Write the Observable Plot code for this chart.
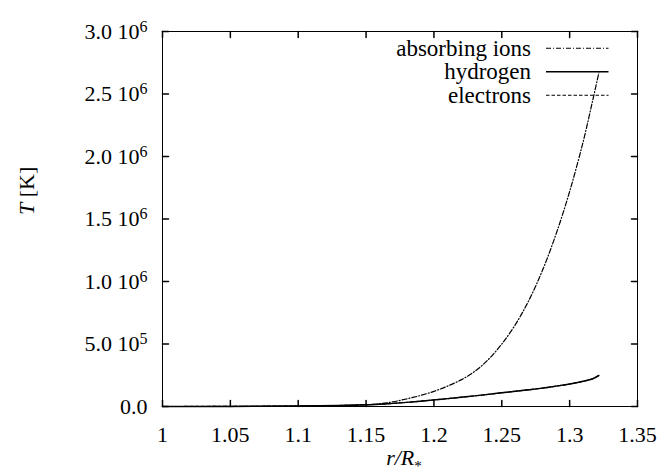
<!DOCTYPE html>
<html><head><meta charset="utf-8">
<script src="https://cdn.jsdelivr.net/npm/d3@7"></script>
<script src="https://cdn.jsdelivr.net/npm/@observablehq/plot@0.6"></script>
<style>
body{margin:0;background:#fff;}
#wrap{position:relative;width:672px;height:474px;}
</style></head><body><div id="wrap"></div>
<script>
// radius r/R*
const radius = [1.00, 1.05, 1.10, 1.13, 1.15, 1.16, 1.17, 1.18, 1.19, 1.20, 1.21, 1.22, 1.23, 1.24, 1.25, 1.26, 1.27, 1.28, 1.29, 1.30, 1.31, 1.3166, 1.3215];
// temperatures [K]
const tIons      = [0, 500, 3000, 7000, 14000, 22000, 38000, 61000, 88000, 121000, 163000, 213000, 280000, 375000, 500000, 655000, 850000, 1090000, 1380000, 1720000, 2120000, 2430000, 2668000];
const tHydrogen  = [0, 1000, 4000, 8000, 14000, 18000, 25000, 33000, 42000, 53000, 63000, 74000, 85000, 97000, 110000, 122000, 134000, 147000, 163000, 180000, 202000, 220000, 248000];
const tElectrons = [0, 1000, 4000, 8000, 14000, 18000, 25000, 33000, 42000, 53000, 63000, 74000, 85000, 97000, 110000, 122000, 134000, 147000, 163000, 180000, 202000, 220000, 248000];
const seriesNames = ["absorbing ions", "hydrogen", "electrons"];

const xTicks = [1, 1.05, 1.1, 1.15, 1.2, 1.25, 1.3, 1.35];
const xTickLabels = ["1", "1.05", "1.1", "1.15", "1.2", "1.25", "1.3", "1.35"];
const yTicks = [0, 5e5, 1e6, 1.5e6, 2e6, 2.5e6, 3e6];
const yTickLabels = ["0.0", "5.0 10^5", "1.0 10^6", "1.5 10^6", "2.0 10^6", "2.5 10^6", "3.0 10^6"];
const xLabel = "r/R*";
const yLabel = "T [K]";

const ions = radius.map((r, i) => ({r, T: tIons[i]}));
const hydrogen = radius.map((r, i) => ({r, T: tHydrogen[i]}));
const electrons = radius.map((r, i) => ({r, T: tElectrons[i]}));

const dashes = {"absorbing ions": "5,2,1,2", "hydrogen": null, "electrons": "3.5,2"};
const tickShape = {draw(ctx, l) { ctx.moveTo(0, 0); ctx.lineTo(0, -l); }};
const FONT = "'Liberation Serif'";

const chart = Plot.plot({
  width: 672, height: 474,
  marginLeft: 162, marginRight: 35, marginTop: 31, marginBottom: 68,
  style: {fontFamily: FONT, fontSize: "22px", color: "black", background: "white"},
  x: {domain: [1, 1.35], label: null},
  y: {domain: [0, 3e6], label: null},
  marks: [
    Plot.line(electrons, {x: "r", y: "T", stroke: "black", strokeWidth: 1.2, strokeDasharray: dashes["electrons"], curve: "catmull-rom"}),
    Plot.line(hydrogen, {x: "r", y: "T", stroke: "black", strokeWidth: 1.5, curve: "catmull-rom"}),
    Plot.line(ions, {x: "r", y: "T", stroke: "black", strokeWidth: 1.2, strokeDasharray: dashes["absorbing ions"], curve: "catmull-rom"}),
    Plot.frame({stroke: "black", strokeWidth: 1}),
    Plot.vector(xTicks, {x: d => d, y: () => 0, length: 6, rotate: 0, anchor: "start", shape: tickShape, stroke: "black"}),
    Plot.vector(xTicks, {x: d => d, y: () => 3e6, length: 6, rotate: 180, anchor: "start", shape: tickShape, stroke: "black"}),
    Plot.vector(yTicks, {x: () => 1, y: d => d, length: 6, rotate: 90, anchor: "start", shape: tickShape, stroke: "black"}),
    Plot.vector(yTicks, {x: () => 1.35, y: d => d, length: 6, rotate: -90, anchor: "start", shape: tickShape, stroke: "black"}),
    Plot.axisX(xTicks, {tickSize: 0, tickPadding: 20, tickFormat: d => xTickLabels[xTicks.indexOf(d)], label: null}),
    Plot.axisY(yTicks, {tickSize: 0, tickPadding: 15, tickFormat: d => yTickLabels[yTicks.indexOf(d)], label: null}),
    Plot.text([xLabel], {frameAnchor: "bottom", text: d => d, dy: 51, lineAnchor: "middle", dx: 4}),
    Plot.text([yLabel], {frameAnchor: "left", text: d => d, dx: -136, dy: -4, rotate: -90, lineAnchor: "middle"})
  ]
});
document.getElementById("wrap").appendChild(chart);

const svg = d3.select(chart);
// superscript exponents on y tick labels
svg.selectAll('g[aria-label="y-axis tick label"] text').each(function() {
  const t = d3.select(this);
  const s = t.text();
  if (s.includes("^")) {
    const [m, e] = s.split("^");
    t.text(null);
    t.append("tspan").text(m);
    t.append("tspan").attr("dy", -7).attr("font-size", 16).text(e);
  }
});
// x label: italic r/R with subscript *
svg.selectAll("text").filter(function() { return this.textContent === xLabel; }).each(function() {
  const t = d3.select(this);
  t.text(null);
  t.append("tspan").attr("font-style", "italic").text("r/R");
  t.append("tspan").attr("dy", 6).attr("font-size", 15).text("*");
});
// y label: italic T
svg.selectAll("text").filter(function() { return this.textContent === yLabel; }).each(function() {
  const t = d3.select(this);
  t.text(null);
  t.append("tspan").attr("font-style", "italic").text("T");
  t.append("tspan").text(" [K]");
});

// legend (gnuplot style, top right inside frame)
const lg = svg.append("g");
seriesNames.forEach((name, i) => {
  const yb = 55.7 + i * 23.5;
  lg.append("text").attr("x", 531).attr("y", yb).attr("text-anchor", "end").attr("fill", "black")
    .attr("font-size", 23).text(name);
  lg.append("line").attr("x1", 546).attr("x2", 608.5).attr("y1", yb - 7.5).attr("y2", yb - 7.5)
    .attr("stroke", "black").attr("stroke-width", name === "hydrogen" ? 1.5 : 1.1)
    .attr("stroke-dasharray", dashes[name]);
});
// font on every text element
svg.selectAll("text").attr("font-family", FONT).style("font-family", FONT);
</script></body></html>
